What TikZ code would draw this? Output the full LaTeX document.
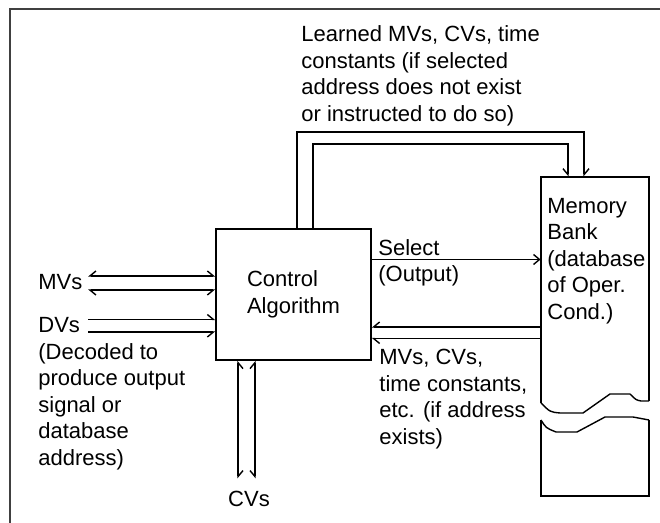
\documentclass[tikz,border=0pt]{standalone}
\usepackage{fontspec}
\setmainfont{Liberation Sans}
\usetikzlibrary{positioning,calc,arrows.meta}

\begin{document}
\begin{tikzpicture}[
  x=0.5pt, y=-0.5pt,
  font=\fontsize{11}{13.25}\selectfont,
  wire/.style={line width=0.7pt},
  block/.style={draw, line width=0.7pt, inner sep=0pt, align=left},
  lbl/.style={anchor=base west, inner sep=0pt, align=left},
  barbL/.tip={Straight Barb[left,length=3pt,width=5pt]},
  barbR/.tip={Straight Barb[right,length=3pt,width=5pt]},
  barb/.tip={Straight Barb[length=3pt,width=5pt]},
]
\useasboundingbox (0,0) rectangle (660,523);

% outer frame
\draw[line width=1pt, black!75] (10,523) -- (10,9) -- (660,9);

\node[block, minimum width=77.5pt, minimum height=65.5pt] (ctrl) at (293.5,294.5) {Control\\Algorithm};
\node[minimum width=54pt, minimum height=159.5pt, inner sep=0pt] (mem) at (595,336.5) {};

% memory bank with break
\draw[wire] (541,403) -- (541,177) -- (649,177) -- (649,401);
\draw[wire] (541,403) .. controls (550,412) .. (560,413) -- (583,413)
  .. controls (597,404) .. (610,394) -- (630,394) .. controls (636,400) .. (641,401) -- (649,401);
\draw[wire] (541,420) .. controls (546,428) .. (556,432) -- (577,432)
  .. controls (592,424) .. (605,417) -- (633,417) .. controls (641,418) .. (649,420);
\draw[wire] (541,420) -- (541,496) -- (649,496) -- (649,420);
% labels: base = last line
\node[lbl] (memlbl) at (547,319.5) {Memory\\Bank\\(database\\of Oper.\\Cond.)};

% free ends
\coordinate (lpA) at (297,132);
\coordinate (rpA) at (584,132);
\coordinate (lpB) at (313,144);
\coordinate (rpB) at (568,144);
\coordinate (sel) at (460,259.5);
\coordinate (retA) at (460,327);
\coordinate (retB) at (460,338.5);
\coordinate (mvA) at (88,276);
\coordinate (mvB) at (88,290);
\coordinate (dvA) at (88,319.5);
\coordinate (dvB) at (88,332);
\coordinate (cvA) at (238,478.5);
\coordinate (cvB) at (255,478.5);

% learned values to memory
\draw[wire, -{barbL}] (ctrl.north -| lpA) -- (lpA) -- (rpA) -- (mem.north -| rpA);
\draw[wire, -{barbR}] (ctrl.north -| lpB) -- (lpB) -- (rpB) -- (mem.north -| rpB);
\node[lbl] (learn) at (301,121.5) {Learned MVs, CVs, time\\constants (if selected\\address does not exist\\or instructed to do so)};

% select
\draw[wire, -{barb}] (ctrl.east |- sel) -- (mem.west |- sel);
\node[lbl] (sellbl) at (378,282) {Select\\(Output)};

% values back from memory
\draw[wire, -{barbR}] (mem.west |- retA) -- (ctrl.east |- retA);
\draw[wire, -{barbL}] (mem.west |- retB) -- (ctrl.east |- retB);
\node[lbl] (retlbl) at (379,444.5) {MVs, CVs,\\time constants,\\etc. (if address\\exists)};

% MVs and DVs
\draw[wire, {barbR}-{barbL}] (mvA) -- (ctrl.west |- mvA);
\draw[wire, {barbL}-{barbR}] (mvB) -- (ctrl.west |- mvB);
\draw[wire, -{barbL}] (dvA) -- (ctrl.west |- dvA);
\draw[wire, -{barbR}] (dvB) -- (ctrl.west |- dvB);
\node[lbl] (mvlbl) at (38,290) {MVs};
\node[lbl] (dvlbl) at (38,465.5) {DVs\\(Decoded to\\produce output\\signal or\\database\\address)};

% CVs
\draw[wire, {barbR}-{barbL}] (ctrl.south -| cvA) -- (cvA);
\draw[wire, {barbL}-{barbR}] (ctrl.south -| cvB) -- (cvB);
\node[lbl, anchor=base] (cvlbl) at (249,506.5) {CVs};

\end{tikzpicture}
\end{document}
